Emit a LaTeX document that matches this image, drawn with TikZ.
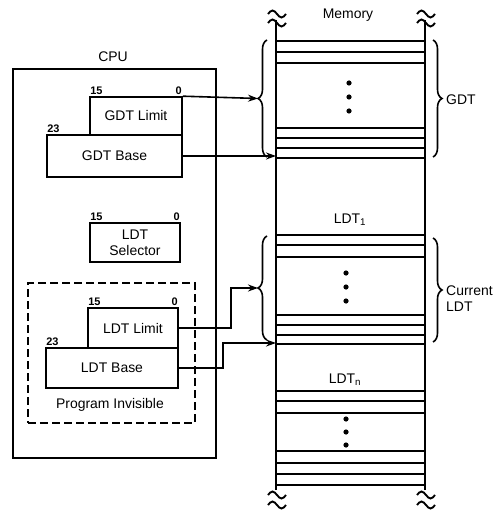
\documentclass[tikz,border=0pt]{standalone}
\usepackage{fontspec}
\setmainfont{Liberation Sans}
\usetikzlibrary{arrows.meta,decorations.pathreplacing}

\tikzset{
    reg/.style={draw, line width=1.6bp, inner sep=0pt, font=\fontsize{14}{16}\selectfont},
    bits/.style={inner sep=1bp, font=\fontsize{11}{11}\selectfont\bfseries},
    lbl/.style={inner sep=0pt, font=\fontsize{14}{16}\selectfont},
    ptr/.style={line width=1.6bp, -{Stealth[length=10bp,width=7bp]}},
    brc/.style={decorate, decoration={brace, amplitude=9bp}, line width=1.6bp},
    slot/.style={line width=1.6bp},
    wall/.style={line width=1.9bp}
}

\begin{document}
\begin{tikzpicture}[x=1bp, y=-1bp]
    \useasboundingbox (0,0) rectangle (499,513);

    \node[lbl] (cpulbl) at (113,57) {CPU};
    \node[draw, line width=1.8bp, minimum width=203bp, minimum height=389bp] (cpu) at (114.5,263.5) {};

    \node[reg, minimum width=92bp, minimum height=38bp] (gdtlimit) at (136,116) {GDT Limit};
    \node[reg, minimum width=135bp, minimum height=42bp] (gdtbase) at (114.5,156) {GDT Base};
    \node[bits, anchor=south west] (gl15) at (gdtlimit.north west) {15};
    \node[bits, anchor=south east] (gl0) at (gdtlimit.north east) {0};
    \node[bits, anchor=south west] (gb23) at (gdtbase.north west) {23};

    \node[reg, minimum width=90bp, minimum height=39bp, align=center] (ldtsel) at (135,242.5) {LDT\\Selector};
    \node[bits, anchor=south west] (ls15) at (ldtsel.north west) {15};
    \node[bits, anchor=south east] (ls0) at (ldtsel.north east) {0};

    \node[draw, line width=1.7bp, dash pattern=on 8bp off 4bp, minimum width=167bp, minimum height=140bp] (invis) at (111.5,353) {};
    \node[reg, minimum width=90bp, minimum height=40bp] (ldtlimit) at (133,328) {LDT Limit};
    \node[reg, minimum width=132bp, minimum height=40bp] (ldtbase) at (112,368) {LDT Base};
    \node[bits, anchor=south west] (ll15) at (ldtlimit.north west) {15};
    \node[bits, anchor=south east] (ll0) at (ldtlimit.north east) {0};
    \node[bits, anchor=south west] (lb23) at (ldtbase.north west) {23};
    \node[lbl] (invislbl) at (110,405) {Program Invisible};

    % memory column
    \coordinate (memL) at (276,0);
    \draw[wall] (276,20) -- (276,490);
    \draw[wall] (425,20) -- (425,490);
    \foreach \y in {41,52,63,128,138,148,158,235,245,257,315,325,335,344,391,401,413,451,463,474,485}
        \draw[slot] (276,\y) -- (425,\y);
    \foreach \x/\y in {349/83,349/97,349/111,346/273,346/287,346/301,346/419,346/432,346/445}
        \fill (\x,\y) circle (2.6bp);
    \foreach \x/\y in {277/14,277/23,426/14,426/23,277/495,277/505,426/495,426/505}
        \draw[line width=1.9bp] (\x-9,\y) sin (\x-4.5,\y-3.5) cos (\x,\y) sin (\x+4.5,\y+3.5) cos (\x+9,\y);

    \node[lbl] (memlbl) at (348,15) {Memory};
    \node[lbl] (ldt1) at (350,220) {LDT\textsubscript{1}};
    \node[lbl] (ldtn) at (345,380) {LDT\textsubscript{n}};

    % braces
    \draw[brc] (267,157) -- (267,40);
    \draw[brc] (267,340) -- (267,236);
    \draw[brc] (433,40) -- (433,157);
    \draw[brc] (433,238) -- (433,342);
    \coordinate (gdttip) at (258,98.5);
    \coordinate (ldttip) at (258,288);
    \coordinate (ldtend) at (276,343);
    \node[lbl, anchor=west] (gdtlbl) at (446,99.5) {GDT};
    \node[lbl, anchor=west, align=left] (curlbl) at (446,299) {Current\\LDT};

    % pointers
    \draw[ptr] (gdtlimit.north east) -- (gdttip);
    \draw[ptr] (gdtbase.east) -- (gdtbase.east -| memL);
    \draw[ptr] (ldtlimit.east) -- ++(52,0) |- (ldttip);
    \draw[ptr] (ldtbase.east) -- ++(44,0) |- (ldtend);
\end{tikzpicture}
\end{document}
